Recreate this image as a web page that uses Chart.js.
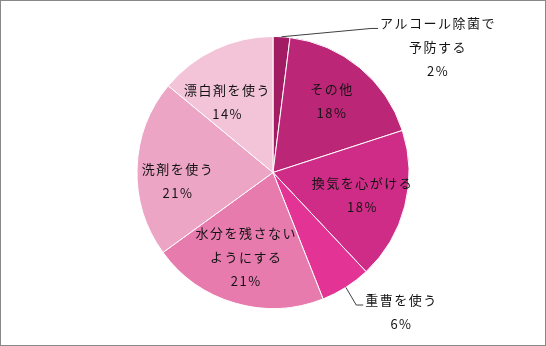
<!DOCTYPE html>
<html>
<head>
<meta charset="utf-8">
<script src="https://cdn.jsdelivr.net/npm/chart.js@4.4.1/dist/chart.umd.min.js"></script>
<style>
    html, body { margin: 0; padding: 0; background: #fff; }
    #marco { width: 546px; height: 346px; box-sizing: border-box; border: 1px solid #888; }
</style>
</head>
<body>
<div id="marco"><canvas id="pieMoho" width="544" height="344"></canvas></div>
<script>
//datos del grafico (cada categoria en lineas)
var categorias = [
    ['アルコール除菌で', '予防する'],
    ['その他'],
    ['換気を心がける'],
    ['重曹を使う'],
    ['水分を残さない', 'ようにする'],
    ['洗剤を使う'],
    ['漂白剤を使う']
];
var porcentajes = [2, 18, 18, 6, 21, 21, 14];
var colores = ['#A21C63', '#BC2676', '#CE2C86', '#E33394', '#E87BAE', '#EDA5C6', '#F3C3D8'];

//ajuste de cada etiqueta: fuera = con linea guia
var ajustes = [
    { fuera: true, dx: 156.5, dy: 10.7 },
    { dx: 0, dy: 0 },
    { dx: 0, dy: 0 },
    { fuera: true, dx: 55.6, dy: 24.7 },
    { dx: -1, dy: -4 },
    { dx: -2.5, dy: 11 },
    { dx: -6, dy: 13 }
];

var etiquetasPlugin = {
    id: 'etiquetas',
    afterDatasetsDraw: function (chart) {
        var ctx = chart.ctx;
        var arcs = chart.getDatasetMeta(0).data;
        var alto = 24;
        ctx.save();
        ctx.font = '13px "Noto Sans CJK JP"';
        ctx.letterSpacing = '1.5px';
        ctx.textAlign = 'center';
        ctx.textBaseline = 'middle';
        arcs.forEach(function (arc, i) {
            var p = arc.getProps(['x', 'y', 'startAngle', 'endAngle', 'outerRadius']);
            var mid = (p.startAngle + p.endAngle) / 2;
            var lineas = categorias[i].concat([porcentajes[i] + '%']);
            var aj = ajustes[i];
            var cx, cy;
            if (aj.fuera) {
                var ex = p.x + Math.cos(mid) * p.outerRadius;
                var ey = p.y + Math.sin(mid) * p.outerRadius;
                cx = ex + aj.dx;
                cy = ey + aj.dy;
            } else {
                cx = p.x + Math.cos(mid) * p.outerRadius * 0.68 + aj.dx;
                cy = p.y + Math.sin(mid) * p.outerRadius * 0.68 + aj.dy;
            }
            var y0 = cy - (lineas.length - 1) * alto / 2;
            if (aj.fuera) {
                //linea guia hasta el inicio del texto
                var w = ctx.measureText(lineas[0]).width;
                var fx = cx - w / 2 - 2, fy = y0 + 5;
                ctx.beginPath();
                ctx.moveTo(ex, ey);
                ctx.lineTo(fx - 7, fy);
                ctx.lineTo(fx, fy);
                ctx.strokeStyle = '#404040';
                ctx.lineWidth = 1;
                ctx.stroke();
            }
            ctx.fillStyle = '#141414';
            lineas.forEach(function (t, k) {
                ctx.fillText(t, cx, y0 + k * alto);
            });
        });
        ctx.restore();
    }
};

function renderMohoPie() {
    var ctx = document.getElementById('pieMoho').getContext('2d');
    new Chart(ctx, {
        type: 'pie',
        data: {
            labels: categorias.map(function (c) { return c.join(''); }),
            datasets: [{
                data: porcentajes,
                backgroundColor: colores,
                borderColor: '#ffffff',
                borderWidth: 1
            }]
        },
        options: {
            responsive: false,
            animation: false,
            layout: { padding: { top: 35, bottom: 36, left: 0, right: 0 } },
            plugins: {
                legend: { display: false },
                tooltip: { enabled: false }
            }
        },
        plugins: [etiquetasPlugin]
    });
}

renderMohoPie();
</script>
</body>
</html>
